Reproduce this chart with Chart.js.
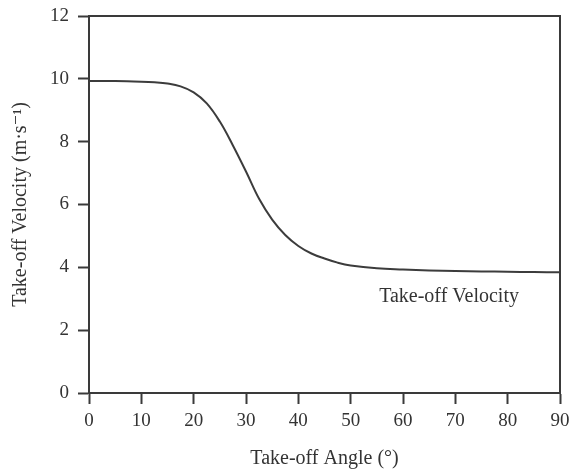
<!DOCTYPE html>
<html>
<head>
<meta charset="utf-8">
<script src="https://cdn.jsdelivr.net/npm/chart.js@4/dist/chart.umd.min.js"></script>
<style>
  html, body { margin: 0; padding: 0; background: #ffffff; }
  #wrap { width: 573px; height: 475px; }
</style>
</head>
<body>
<div id="wrap"><canvas id="chart" width="573" height="475"></canvas></div>
<script>
// Take-off velocity as a function of take-off angle
const angles = [0, 5, 10, 12.5, 15, 17.5, 20, 22.5, 25, 27.5, 30, 32.5, 35, 37.5, 40, 42.5, 45, 47.5, 50, 55, 60, 65, 70, 75, 80, 85, 90];
const velocities = [9.93, 9.93, 9.91, 9.89, 9.85, 9.76, 9.57, 9.22, 8.64, 7.88, 7.05, 6.18, 5.52, 5.03, 4.68, 4.44, 4.28, 4.15, 4.06, 3.97, 3.93, 3.90, 3.88, 3.87, 3.86, 3.85, 3.84];
const angleTicks = [0, 10, 20, 30, 40, 50, 60, 70, 80, 90];
const velocityTicks = [0, 2, 4, 6, 8, 10, 12];
const seriesLabel = 'Take-off Velocity';
const labelAnchor = { angle: 68.8, velocity: 3.06 };

const INK = '#333333';
const AXIS = '#3a3a3a';
const FONT = '"Liberation Serif", "DejaVu Serif", serif';

const points = angles.map((a, i) => ({ x: a, y: velocities[i] }));

// Writes the series name inside the plot, under the curve's flat tail
const curveLabel = {
  id: 'curveLabel',
  afterDatasetsDraw(chart) {
    const { ctx, scales } = chart;
    ctx.save();
    ctx.font = '20px ' + FONT;
    ctx.fillStyle = INK;
    ctx.textAlign = 'center';
    ctx.textBaseline = 'middle';
    ctx.fillText(seriesLabel,
      scales.x.getPixelForValue(labelAnchor.angle),
      scales.y.getPixelForValue(labelAnchor.velocity));
    ctx.restore();
  }
};

const tickFont = { family: FONT, size: 19 };
const titleFont = { family: FONT, size: 20 };

new Chart(document.getElementById('chart'), {
  type: 'line',
  data: {
    datasets: [{
      label: seriesLabel,
      data: points,
      borderColor: '#3c3c3c',
      borderWidth: 2,
      pointRadius: 0,
      fill: false,
      tension: 0.4
    }]
  },
  options: {
    responsive: false,
    animation: false,
    devicePixelRatio: 1,
    layout: { padding: { top: 16, right: 13, left: 0, bottom: 0 } },
    plugins: { legend: { display: false }, tooltip: { enabled: false } },
    scales: {
      x: {
        type: 'linear',
        position: 'bottom',
        min: 0, max: 90,
        afterBuildTicks: s => { s.ticks = angleTicks.map(v => ({ value: v })); },
        afterFit: s => { s.height = 82; s.paddingLeft = 0; s.paddingRight = 0; },
        ticks: { color: INK, font: tickFont, padding: 6, maxRotation: 0 },
        grid: { drawOnChartArea: false, drawTicks: true, tickLength: 11, tickWidth: 2, tickColor: AXIS },
        border: { display: true, color: AXIS, width: 2 },
        title: { display: true, text: 'Take-off Angle (°)', color: INK, font: titleFont, padding: { top: 0, bottom: 4 } }
      },
      y: {
        type: 'linear',
        position: 'left',
        min: 0, max: 12,
        afterBuildTicks: s => { s.ticks = velocityTicks.map(v => ({ value: v })); },
        afterFit: s => { s.width = 89; s.paddingTop = 0; s.paddingBottom = 0; },
        ticks: { color: INK, font: tickFont, padding: 9 },
        grid: { drawOnChartArea: false, drawTicks: true, tickLength: 11, tickWidth: 2, tickColor: AXIS },
        border: { display: true, color: AXIS, width: 2 },
        title: { display: true, text: 'Take-off Velocity (m·s⁻¹)', color: INK, font: titleFont, padding: { top: 9, bottom: 0 } }
      },
      xTop: {
        type: 'linear',
        position: 'top',
        min: 0, max: 90,
        ticks: { display: false },
        afterFit: s => { s.height = 0; s.paddingLeft = 0; s.paddingRight = 0; },
        grid: { drawOnChartArea: false, drawTicks: false },
        border: { display: true, color: AXIS, width: 2 }
      },
      yRight: {
        type: 'linear',
        position: 'right',
        min: 0, max: 12,
        ticks: { display: false },
        afterFit: s => { s.width = 0; s.paddingTop = 0; s.paddingBottom = 0; },
        grid: { drawOnChartArea: false, drawTicks: false },
        border: { display: true, color: AXIS, width: 2 }
      }
    }
  },
  plugins: [curveLabel]
});
</script>
</body>
</html>
